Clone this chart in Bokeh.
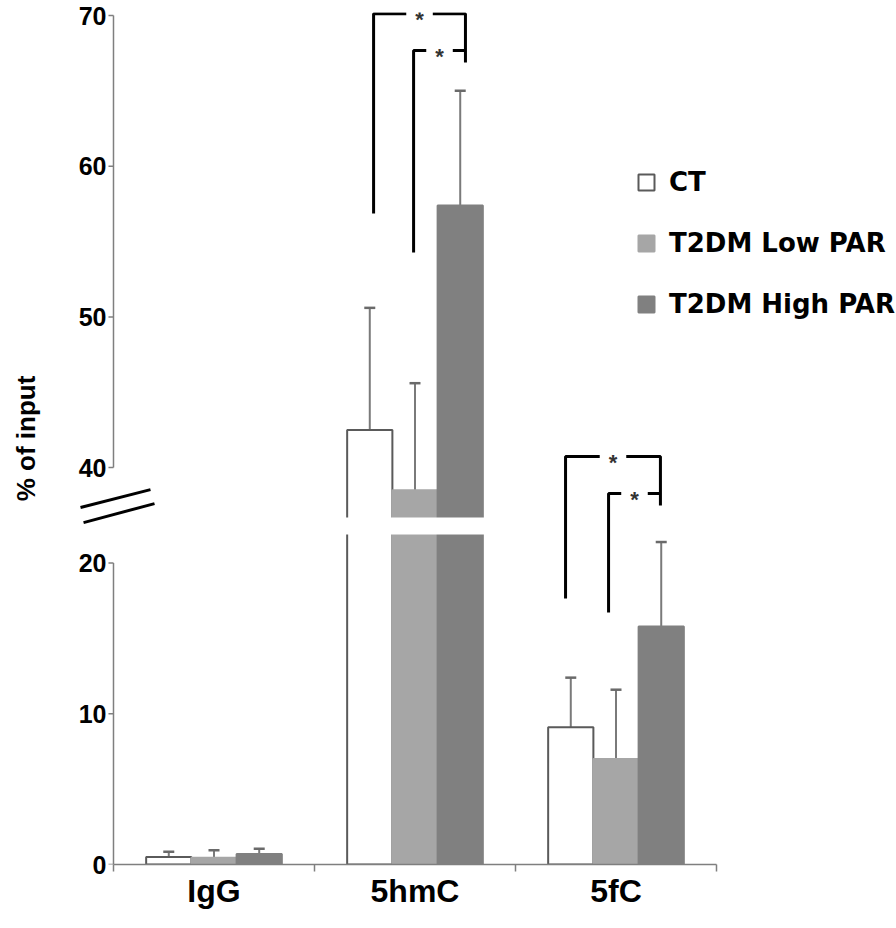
from bokeh.plotting import figure
from bokeh.models import (ColumnDataSource, FixedTicker, Whisker, TeeHead, BoxAnnotation,
                          Legend, LegendItem, Range1d)
from bokeh.core.properties import value
from bokeh.embed import file_html
from bokeh.resources import INLINE

# ---------------- data ----------------
categories = ["IgG", "5hmC", "5fC"]
series = ["CT", "T2DM Low PAR", "T2DM High PAR"]
ct_mean = [0.5, 42.5, 9.1]
ct_err = [0.35, 8.1, 3.3]
low_mean = [0.45, 38.5, 7.0]
low_err = [0.5, 7.1, 4.6]
high_mean = [0.7, 57.4, 15.8]
high_err = [0.35, 7.6, 5.6]
lower_ticks = [0, 10, 20]
upper_ticks = [40, 50, 60, 70]

# ---------------- broken-axis mapping ----------------
LOW_TOP = 21.9      # top of the lower segment (value units)
UP_BOTTOM = 36.69   # bottom of the upper segment (value units)
OFFSET = 13.66      # shift applied to the upper segment


def disp(v):
    return v if v <= LOW_TOP else v - OFFSET


Y_END = 56.54
X_START = -0.1741
X_END = 3.8955
BAR_W = 0.225
TICK = 0.025
fills = ["white", "#a6a6a6", "#808080"]
lines = ["#5a5a5a", "#a6a6a6", "#808080"]
FONT = "Liberation Sans"
AXIS_COLOR = "#7f7f7f"

p = figure(width=896, height=924, x_range=Range1d(X_START, X_END), y_range=Range1d(0, Y_END),
           output_backend="svg", toolbar_location=None,
           min_border_left=78, min_border_right=0, min_border_top=12, min_border_bottom=60)
p.outline_line_color = None
p.xgrid.visible = False
p.ygrid.visible = False

renderers = []
means = [ct_mean, low_mean, high_mean]
errs = [ct_err, low_err, high_err]
for j in range(3):
    xs = [i + 0.5 + (j - 1) * BAR_W for i in range(len(categories))]
    src = ColumnDataSource(dict(
        x=xs,
        top=[disp(m) for m in means[j]],
        lower=[disp(m) for m in means[j]],
        upper=[disp(m + e) for m, e in zip(means[j], errs[j])],
    ))
    r = p.vbar(x="x", top="top", bottom=0, width=BAR_W, source=src,
               fill_color=fills[j], line_color=lines[j], line_width=2)
    renderers.append(r)
    w = Whisker(source=src, base="x", upper="upper", lower="lower", dimension="height",
                line_color="#7a7a7a", line_width=2, lower_head=None,
                upper_head=TeeHead(size=11, line_color="#6a6a6a", line_width=2.5))
    p.add_layout(w)

# white gap through the bars that cross the break
p.add_layout(BoxAnnotation(left=1, right=2, bottom=LOW_TOP, top=UP_BOTTOM - OFFSET,
                           fill_color="white", fill_alpha=1, line_color=None))

# y axis: two line segments with outward ticks
yt = [disp(t) for t in lower_ticks + upper_ticks]
p.segment(x0=[0, 0], x1=[0, 0],
          y0=[disp(lower_ticks[0]), disp(upper_ticks[0])],
          y1=[disp(lower_ticks[-1]), disp(upper_ticks[-1])],
          line_color=AXIS_COLOR, line_width=1.5)
p.segment(x0=[-TICK] * len(yt), x1=[0] * len(yt), y0=yt, y1=yt,
          line_color=AXIS_COLOR, line_width=1.5)
# break marks
p.segment(x0=[-0.164, -0.149], x1=[0.184, 0.204], y0=[23.69, 22.69], y1=[24.88, 23.95],
          line_color="black", line_width=3)

p.yaxis.ticker = FixedTicker(ticks=yt, minor_ticks=[])
p.yaxis.major_label_overrides = {disp(t): str(t) for t in lower_ticks + upper_ticks}
p.yaxis.axis_line_color = None
p.yaxis.major_tick_out = 0
p.yaxis.major_tick_in = 0
p.yaxis.major_label_standoff = -28
p.yaxis.major_label_text_font = FONT
p.yaxis.major_label_text_font_size = "25px"
p.yaxis.major_label_text_font_style = "bold"
p.yaxis.major_label_text_color = "black"
p.yaxis.axis_label = "% of input"
p.yaxis.axis_label_text_font = FONT
p.yaxis.axis_label_text_font_size = "26px"
p.yaxis.axis_label_text_font_style = "bold"
p.yaxis.axis_label_text_color = "black"
p.yaxis.axis_label_standoff = 35

xt = [i + 0.5 for i in range(len(categories))]
p.xaxis.ticker = FixedTicker(ticks=xt, minor_ticks=list(range(len(categories) + 1)))
p.xaxis.major_label_overrides = {x: c for x, c in zip(xt, categories)}
p.xaxis.bounds = (0, len(categories))
p.xaxis.axis_line_color = AXIS_COLOR
p.xaxis.axis_line_width = 1.5
p.xaxis.major_tick_out = 0
p.xaxis.major_tick_in = 0
p.xaxis.minor_tick_out = 7
p.xaxis.minor_tick_in = 0
p.xaxis.minor_tick_line_color = AXIS_COLOR
p.xaxis.minor_tick_line_width = 1.5
p.xaxis.major_label_standoff = 1
p.xaxis.major_label_text_font = FONT
p.xaxis.major_label_text_font_size = "32px"
p.xaxis.major_label_text_font_style = "bold"
p.xaxis.major_label_text_color = "black"

# significance brackets (positions in display units)
br_left = [1.294, 1.493, 2.249, 2.463]
br_right = [1.751, 1.751, 2.721, 2.721]
br_top = [56.45, 54.01, 27.07, 24.62]
br_left_bottom = [43.2, 40.61, 17.65, 16.72]
br_right_bottom = [53.22, 54.01, 23.82, 24.62]
GAP = 0.066
mx, my = [], []
sx, sy = [], []
for L, R, T, LB, RB in zip(br_left, br_right, br_top, br_left_bottom, br_right_bottom):
    c = (L + R) / 2
    mx.append([L, L, c - GAP]); my.append([LB, T, T])
    mx.append([c + GAP, R, R]); my.append([T, T, RB])
    sx.append(c); sy.append(T)
p.multi_line(xs=mx, ys=my, line_color="black", line_width=3)
p.text(x=sx, y=sy, text=["*"] * len(sx), text_align="center", text_baseline="middle",
       text_font=value(FONT), text_font_size="22px", text_font_style="bold",
       text_color="#333333", y_offset=6)

legend = Legend(items=[LegendItem(label=s, renderers=[r]) for s, r in zip(series, renderers)],
                location=(558, 545))
legend.glyph_width = 20
legend.glyph_height = 20
legend.label_standoff = 13
legend.spacing = 31
legend.padding = 0
legend.margin = 0
legend.border_line_color = None
legend.background_fill_alpha = 0
legend.label_text_font = "DejaVu Sans"
legend.label_text_font_size = "26px"
legend.label_text_font_style = "bold"
legend.label_text_color = "black"
p.add_layout(legend)

open("out.html", "w").write(file_html(p, INLINE))
